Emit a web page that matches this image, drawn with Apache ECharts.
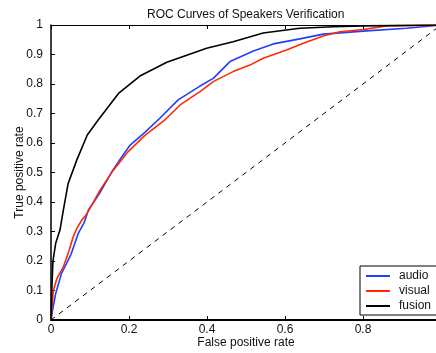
<!DOCTYPE html>
<html><head><meta charset="utf-8">
<script src="https://cdn.jsdelivr.net/npm/echarts@6/dist/echarts.min.js"></script>
<style>html,body{margin:0;padding:0;background:#fff}#c{width:436px;height:353px}</style>
</head><body><div id="c"></div>
<script>
const titleText = "ROC Curves of Speakers Verification";
const xLabel = "False positive rate";
const yLabel = "True positive rate";
const xTicks = ["0","0.2","0.4","0.6","0.8","1"];
const yTicks = ["0","0.1","0.2","0.3","0.4","0.5","0.6","0.7","0.8","0.9","1"];
const seriesNames = ["audio","visual","fusion"];
const audio = [[0,0],[0.005,0.04],[0.012,0.09],[0.027,0.158],[0.04,0.192],[0.052,0.225],[0.07,0.294],[0.085,0.33],[0.096,0.373],[0.125,0.43],[0.156,0.503],[0.18,0.55],[0.203,0.593],[0.24,0.635],[0.279,0.684],[0.326,0.746],[0.382,0.793],[0.416,0.819],[0.459,0.876],[0.519,0.912],[0.570,0.936],[0.638,0.953],[0.698,0.969],[0.809,0.98],[0.912,0.989],[1,1]];
const visual = [[0,0],[0.003,0.05],[0.006,0.1],[0.015,0.14],[0.032,0.181],[0.045,0.23],[0.057,0.282],[0.066,0.31],[0.079,0.339],[0.09,0.356],[0.105,0.39],[0.126,0.441],[0.16,0.508],[0.198,0.571],[0.24,0.625],[0.292,0.678],[0.331,0.729],[0.382,0.774],[0.416,0.808],[0.467,0.842],[0.51,0.864],[0.544,0.887],[0.604,0.915],[0.647,0.938],[0.698,0.963],[0.741,0.977],[0.801,0.985],[0.861,0.997],[1,1]];
const fusion = [[0,0],[0.002,0.1],[0.005,0.2],[0.012,0.26],[0.023,0.305],[0.032,0.375],[0.044,0.463],[0.066,0.542],[0.093,0.627],[0.121,0.678],[0.173,0.768],[0.228,0.827],[0.297,0.874],[0.399,0.921],[0.467,0.943],[0.544,0.973],[0.638,0.989],[0.724,0.994],[0.8,0.997],[1,1]];
const chance = [[0,0],[1,1]];

const font = "Liberation Sans, Arial, sans-serif";
const chart = echarts.init(document.getElementById('c'), null, {renderer:'canvas'});
chart.setOption({
  animation:false,
  backgroundColor:'#fff',
  title:{text:titleText,left:142,top:4,textStyle:{fontFamily:font,fontSize:12,fontWeight:'normal',color:'#111'}},
  grid:{left:51,top:25,right:-5,bottom:33,containLabel:false,outerBoundsMode:'none'},
  legend:{data:seriesNames,orient:'vertical',left:360,top:266,itemWidth:24,itemHeight:2,itemGap:3,icon:'rect',
    padding:[4,40,3,6],borderColor:'#000',borderWidth:1,backgroundColor:'#fff',
    textStyle:{fontFamily:font,fontSize:12,color:'#111',padding:[0,0,0,4]}},
  xAxis:[{type:'value',min:0,max:1,interval:0.2,position:'bottom',
    name:xLabel,nameLocation:'middle',nameGap:17,nameMoveOverlap:false,nameTextStyle:{fontFamily:font,fontSize:12,color:'#111'},
    axisLine:{show:true,lineStyle:{color:'#000',width:2}},
    axisTick:{inside:true,length:4,lineStyle:{color:'#000'}},
    axisLabel:{fontFamily:font,fontSize:12,color:'#111',margin:4,formatter:(v,i)=>xTicks[Math.round(v/0.2)]},
    splitLine:{show:false}},
   {type:'value',min:0,max:1,interval:0.2,position:'top',
    axisLine:{show:true,lineStyle:{color:'#000',width:1}},
    axisTick:{inside:true,length:4,lineStyle:{color:'#000'}},
    axisLabel:{show:false},splitLine:{show:false}}],
  yAxis:[{type:'value',min:0,max:1,interval:0.1,
    name:yLabel,nameLocation:'middle',nameGap:25,nameMoveOverlap:false,nameTextStyle:{fontFamily:font,fontSize:12,color:'#111'},
    axisLine:{show:true,lineStyle:{color:'#000',width:1.5}},
    axisTick:{inside:true,length:4,lineStyle:{color:'#000'}},
    axisLabel:{fontFamily:font,fontSize:12,color:'#111',margin:8,formatter:(v)=>yTicks[Math.round(v*10)]},
    splitLine:{show:false}}],
  series:[
    {name:'audio',type:'line',data:audio,showSymbol:false,symbol:'none',lineStyle:{color:'#1f3fff',width:1.6},itemStyle:{color:'#1f3fff'},z:3},
    {name:'visual',type:'line',data:visual,showSymbol:false,symbol:'none',lineStyle:{color:'#ff2a00',width:1.6},itemStyle:{color:'#ff2a00'},z:4},
    {name:'fusion',type:'line',data:fusion,showSymbol:false,symbol:'none',lineStyle:{color:'#000',width:1.6},itemStyle:{color:'#000'},z:5},
    {name:'chance',type:'line',data:chance,showSymbol:false,symbol:'none',lineStyle:{color:'#000',width:1,type:[5,5]},z:2}
  ]
});
</script></body></html>
